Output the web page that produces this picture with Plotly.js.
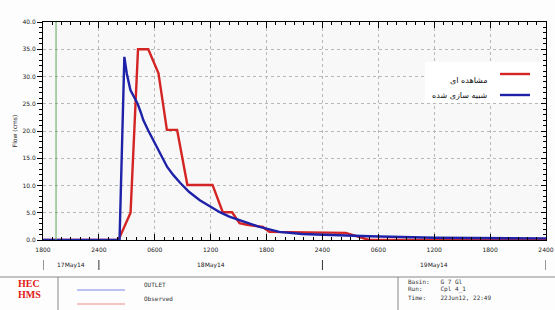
<!DOCTYPE html>
<html><head><meta charset="utf-8">
<script src="https://cdn.plot.ly/plotly-3.0.1.min.js"></script>
<style>html,body{margin:0;padding:0;background:#fdfdfd;}</style>
</head><body><div id="chart" style="width:555px;height:310px;"></div>
<script>
// ---- data ----
const obsTimes = ['2014-05-17 18:00','2014-05-18 02:06','2014-05-18 03:24','2014-05-18 04:12','2014-05-18 05:18','2014-05-18 06:24','2014-05-18 07:18','2014-05-18 08:24','2014-05-18 09:30','2014-05-18 12:12','2014-05-18 13:18','2014-05-18 14:18','2014-05-18 15:06','2014-05-18 15:54','2014-05-18 17:36','2014-05-18 18:18','2014-05-19 02:30','2014-05-19 05:00','2014-05-20 00:00'];
const obsFlow  = [0,0,5.0,35.0,35.0,30.6,20.2,20.2,10.1,10.1,5.1,5.1,3.1,2.8,2.4,1.5,1.3,0,0];
const simTimes = ['2014-05-17 18:00','2014-05-18 02:13','2014-05-18 02:44','2014-05-18 03:00','2014-05-18 03:23','2014-05-18 03:45','2014-05-18 04:08','2014-05-18 04:30','2014-05-18 04:46','2014-05-18 05:18','2014-05-18 05:50','2014-05-18 06:30','2014-05-18 07:20','2014-05-18 08:00','2014-05-18 08:43','2014-05-18 09:42','2014-05-18 10:50','2014-05-18 12:00','2014-05-18 12:59','2014-05-18 14:00','2014-05-18 15:06','2014-05-18 16:12','2014-05-18 17:14','2014-05-18 19:22','2014-05-18 21:50','2014-05-19 05:00','2014-05-19 12:00','2014-05-20 00:00'];
const simFlow  = [0,0,33.6,30.5,27.5,26.2,25.1,23.4,22.0,20.1,18.3,16.0,13.4,11.9,10.5,8.8,7.3,6.1,5.1,4.3,3.7,3.0,2.4,1.5,1.1,0.7,0.4,0.3];
const markerTime = '2014-05-17 19:24';
const tickTimes = ['2014-05-17 18:00','2014-05-18 00:00','2014-05-18 06:00','2014-05-18 12:00','2014-05-18 18:00','2014-05-19 00:00','2014-05-19 06:00','2014-05-19 12:00','2014-05-19 18:00','2014-05-20 00:00'];
const tickLabels = ['1800','2400','0600','1200','1800','2400','0600','1200','1800','2400'];
const dayCenters = ['2014-05-17 21:00','2014-05-18 12:00','2014-05-19 12:00'];
const dayLabels = ['17May14','18May14','19May14'];
const dayBounds = ['2014-05-17 18:00','2014-05-18 00:00','2014-05-19 00:00','2014-05-20 00:00'];
const seriesNames = ['مشاهده ای','شبیه سازی شده'];
const hmsNames = ['OUTLET','Observed'];
const infoLines = ['Basin:   G 7 Gl','Run:     Cpl 4_1','Time:    22Jun12, 22:49'];

const RED = '#d42424', BLUE = '#1e22a8';
const xRange = [tickTimes[0], tickTimes[tickTimes.length-1]];

const traces = [
  {x: obsTimes, y: obsFlow, type:'scatter', mode:'lines', name: seriesNames[0], line:{color:RED, width:2.4}, showlegend:false},
  {x: simTimes, y: simFlow, type:'scatter', mode:'lines', name: seriesNames[1], line:{color:BLUE, width:2.4}, showlegend:false},
  {x: [xRange[0]], y:[0], yaxis:'y2', type:'scatter', mode:'markers', marker:{opacity:0}, showlegend:false, hoverinfo:'skip'}
];

const W = 555, H = 310, L = 43, R = 9, T = 22, B = 70;
const pw = W - L - R, ph = H - T - B;
const px = v => (v - L) / pw;
const py = v => (T + ph - v) / ph;

const tickFont = {family:'DejaVu Sans', size:6, color:'#222'};
const shapes = [];
const annotations = [];

// green marker line
shapes.push({type:'line', xref:'x', yref:'paper', x0:markerTime, x1:markerTime, y0:0, y1:1, line:{color:'#5aa85a', width:1}});
// day separators
dayBounds.forEach(d => shapes.push({type:'line', xref:'x', yref:'paper', x0:d, x1:d, y0:py(260), y1:py(270), line:{color:'#333', width:1}}));
dayLabels.forEach((t,i) => annotations.push({xref:'x', yref:'paper', x:dayCenters[i], y:py(265), text:t, showarrow:false, font:tickFont, xanchor:'center', yanchor:'middle'}));
// bottom panel separators
shapes.push({type:'line', xref:'paper', yref:'paper', x0:px(0), x1:px(555), y0:py(277), y1:py(277), line:{color:'#888', width:1}});
shapes.push({type:'line', xref:'paper', yref:'paper', x0:px(58), x1:px(58), y0:py(277), y1:py(310), line:{color:'#888', width:1}});
shapes.push({type:'line', xref:'paper', yref:'paper', x0:px(398), x1:px(398), y0:py(277), y1:py(310), line:{color:'#888', width:1}});
// HEC HMS logo
annotations.push({xref:'paper', yref:'paper', x:px(16), y:py(291), text:'<b>HEC</b>', showarrow:false, font:{family:'Liberation Serif', size:10, color:'#e01818'}});
annotations.push({xref:'paper', yref:'paper', x:px(16), y:py(302), text:'<b>HMS</b>', showarrow:false, font:{family:'Liberation Serif', size:10, color:'#e01818'}});
// bottom legend
const hmsColors = ['#7f86e8','#f08a8a'];
[290,304].forEach((yy,i) => {
  shapes.push({type:'line', xref:'paper', yref:'paper', x0:px(77), x1:px(125), y0:py(yy), y1:py(yy), line:{color:hmsColors[i], width:1}});
  annotations.push({xref:'paper', yref:'paper', x:px(142), y:py(yy), text:hmsNames[i], showarrow:false, xanchor:'left', font:{family:'DejaVu Sans Mono', size:6, color:'#333'}});
});
// info text
[287,295,303].forEach((yy,i) => annotations.push({xref:'paper', yref:'paper', x:px(406), y:py(yy), text:infoLines[i].replace(/ /g,'&nbsp;'), showarrow:false, xanchor:'left', font:{family:'DejaVu Sans Mono', size:6, color:'#333'}}));
// in-plot legend (RTL style)
shapes.push({type:'rect', xref:'paper', yref:'paper', x0:px(425), x1:px(543), y0:py(103), y1:py(62), fillcolor:'#ffffff', line:{width:0}});
[[74,RED],[95,BLUE]].forEach((a,i) => {
  shapes.push({type:'line', xref:'paper', yref:'paper', x0:px(500), x1:px(530), y0:py(a[0]), y1:py(a[0]), line:{color:a[1], width:2.4}});
  annotations.push({xref:'paper', yref:'paper', x:px(490), y:py(a[0]), text:seriesNames[i], showarrow:false, xanchor:'right', font:{family:'DejaVu Sans', size:8, color:'#111'}});
});

const layout = {
  width:W, height:H,
  margin:{l:L, r:R, t:T, b:B, pad:0},
  paper_bgcolor:'#fdfdfd', plot_bgcolor:'#f8f8f8',
  showlegend:false,
  xaxis:{type:'date', range:xRange, tickmode:'array', tickvals:tickTimes, ticktext:tickLabels,
    ticks:'inside', ticklen:6, tickcolor:'#000', showline:true, linecolor:'#000', linewidth:1, mirror:'ticks',
    showgrid:true, gridcolor:'#b8b8b8', griddash:'dot', zeroline:false, tickfont:tickFont,
    ticklabeloverflow:'allow', ticklabelstandoff:4,
    minor:{tickmode:'linear', dtick:3600000, tick0:tickTimes[0], ticks:'inside', ticklen:3, tickcolor:'#000', showgrid:false}},
  yaxis:{range:[0,40], dtick:5, tick0:0, tickformat:'.1f', ticks:'outside', ticklen:5, tickcolor:'#000',
    showline:true, linecolor:'#000', linewidth:1, mirror:true, showgrid:true, gridcolor:'#b8b8b8', griddash:'dot',
    zeroline:false, tickfont:tickFont, title:{text:'Flow (cms)', font:{family:'DejaVu Sans', size:6, color:'#222'}, standoff:4},
    minor:{tickmode:'linear', dtick:1, ticks:'outside', ticklen:3, tickcolor:'#000', showgrid:false}},
  yaxis2:{overlaying:'y', side:'right', range:[0,40], dtick:5, ticks:'inside', ticklen:5, tickcolor:'#000',
    showticklabels:false, showgrid:false, zeroline:false, showline:false,
    minor:{tickmode:'linear', dtick:1, ticks:'inside', ticklen:3, tickcolor:'#000', showgrid:false}},
  shapes:shapes, annotations:annotations
};
Plotly.newPlot('chart', traces, layout, {displayModeBar:false, staticPlot:true});
</script></body></html>
